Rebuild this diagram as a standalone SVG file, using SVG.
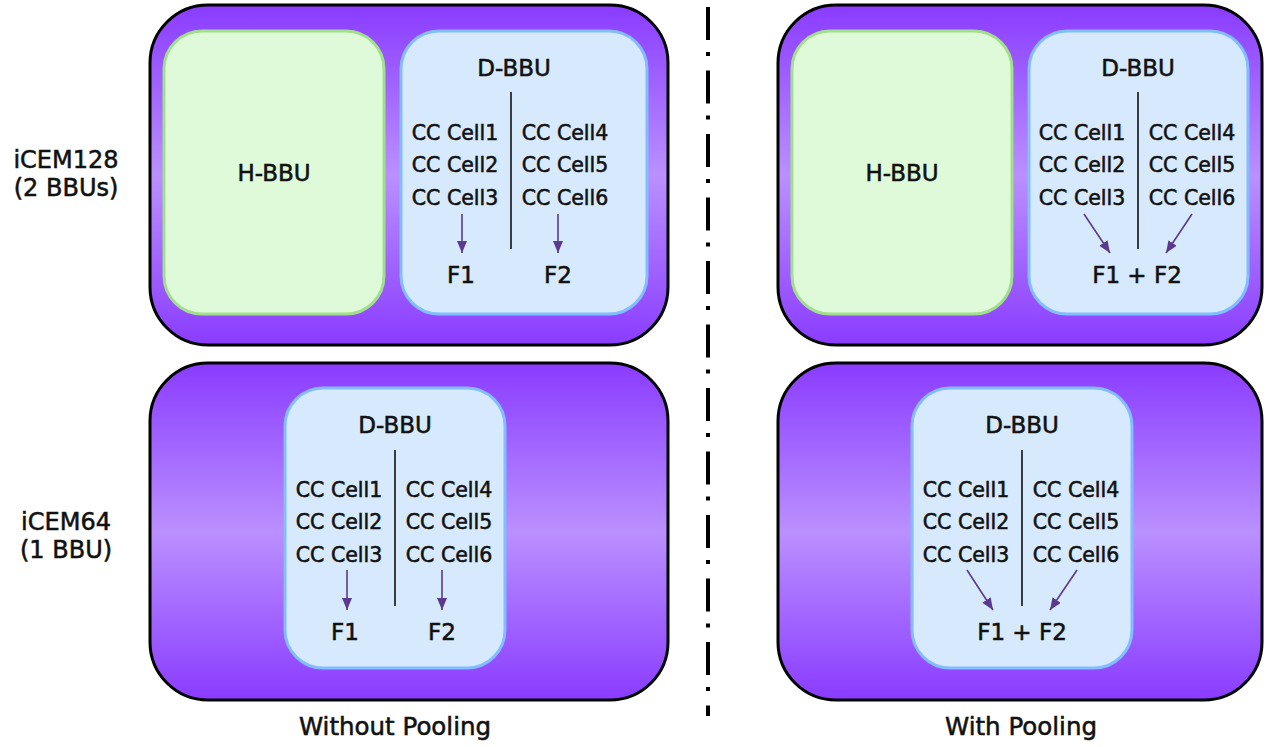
<svg xmlns="http://www.w3.org/2000/svg" width="1267" height="747" viewBox="0 0 1267 747">
<defs>
<linearGradient id="pg" x1="0" y1="0" x2="0" y2="1">
<stop offset="0" stop-color="#8a3cff"/>
<stop offset="0.5" stop-color="#ba90ff"/>
<stop offset="1" stop-color="#8a3cff"/>
</linearGradient>
<marker id="ah" viewBox="0 0 12 10" refX="12" refY="5" markerWidth="12" markerHeight="10" markerUnits="userSpaceOnUse" orient="auto">
<path d="M0,0 L12,5 L0,10 z" fill="#5b3a8e"/>
</marker>
</defs>
<style>
.outer{fill:url(#pg);stroke:#000;stroke-width:3}
.hbbu{fill:#dffad8;stroke:#a2df8c;stroke-width:3}
.dbbu{fill:#d7e9fd;stroke:#82bdff;stroke-width:3}
text{font-family:"DejaVu Sans","Liberation Sans",sans-serif;fill:#111;stroke:#111;stroke-width:0.55px;text-anchor:middle}
.cell{font-size:20.5px}
.t{font-size:23px}
.side{font-size:24px}
.lab{font-size:24.5px}
.arr{stroke:#5b3a8e;stroke-width:1.6;fill:none;marker-end:url(#ah)}
.div{stroke:#111;stroke-width:1.6}
.sep{stroke:#000;stroke-width:4;stroke-dasharray:33 12 4 14.5;fill:none}
</style>

<g id="label-icem128"><text class="side" x="66" y="168">iCEM128</text><text class="side" x="66" y="196">(2 BBUs)</text></g>
<g id="label-icem64"><text class="side" x="66" y="530">iCEM64</text><text class="side" x="66" y="558">(1 BBU)</text></g>

<g id="icem128-nopool">
<rect class="outer" x="150" y="5" width="518" height="340" rx="58"/>
</g>
<g id="hbbu-nopool">
<rect class="hbbu" x="164" y="31" width="220" height="283" rx="38"/>
<text class="t" x="274" y="181">H-BBU</text>
</g>
<g id="dbbu128-nopool">
<rect class="dbbu" x="401" y="31" width="246" height="283" rx="38"/>
<text class="t" x="514" y="76">D-BBU</text>
<line class="div" x1="511" y1="92" x2="511" y2="249"/>
<text class="cell" x="455" y="140">CC Cell1</text>
<text class="cell" x="455" y="172">CC Cell2</text>
<text class="cell" x="455" y="205">CC Cell3</text>
<text class="cell" x="565" y="140">CC Cell4</text>
<text class="cell" x="565" y="172">CC Cell5</text>
<text class="cell" x="565" y="205">CC Cell6</text>
<text class="t" x="461" y="283">F1</text>
<text class="t" x="558" y="283">F2</text>
</g>

<g id="icem128-pool">
<rect class="outer" x="778" y="5" width="484" height="340" rx="58"/>
</g>
<g id="hbbu-pool">
<rect class="hbbu" x="792" y="31" width="220" height="283" rx="38"/>
<text class="t" x="902" y="181">H-BBU</text>
</g>
<g id="dbbu128-pool">
<rect class="dbbu" x="1029" y="31" width="219" height="283" rx="38"/>
<text class="t" x="1138" y="76">D-BBU</text>
<line class="div" x1="1138" y1="92" x2="1138" y2="249"/>
<text class="cell" x="1082" y="140">CC Cell1</text>
<text class="cell" x="1082" y="172">CC Cell2</text>
<text class="cell" x="1082" y="205">CC Cell3</text>
<text class="cell" x="1192" y="140">CC Cell4</text>
<text class="cell" x="1192" y="172">CC Cell5</text>
<text class="cell" x="1192" y="205">CC Cell6</text>
<text class="t" x="1137" y="283">F1 + F2</text>
</g>

<g id="icem64-nopool">
<rect class="outer" x="150" y="363" width="518" height="337" rx="58"/>
</g>
<g id="dbbu64-nopool">
<rect class="dbbu" x="285" y="388" width="220" height="280" rx="38"/>
<text class="t" x="395" y="433">D-BBU</text>
<line class="div" x1="395" y1="450" x2="395" y2="606"/>
<text class="cell" x="339" y="497">CC Cell1</text>
<text class="cell" x="339" y="529">CC Cell2</text>
<text class="cell" x="339" y="562">CC Cell3</text>
<text class="cell" x="449" y="497">CC Cell4</text>
<text class="cell" x="449" y="529">CC Cell5</text>
<text class="cell" x="449" y="562">CC Cell6</text>
<text class="t" x="345" y="640">F1</text>
<text class="t" x="442" y="640">F2</text>
</g>

<g id="icem64-pool">
<rect class="outer" x="778" y="363" width="484" height="337" rx="58"/>
</g>
<g id="dbbu64-pool">
<rect class="dbbu" x="912" y="388" width="220" height="280" rx="38"/>
<text class="t" x="1022" y="433">D-BBU</text>
<line class="div" x1="1022" y1="450" x2="1022" y2="606"/>
<text class="cell" x="966" y="497">CC Cell1</text>
<text class="cell" x="966" y="529">CC Cell2</text>
<text class="cell" x="966" y="562">CC Cell3</text>
<text class="cell" x="1076" y="497">CC Cell4</text>
<text class="cell" x="1076" y="529">CC Cell5</text>
<text class="cell" x="1076" y="562">CC Cell6</text>
<text class="t" x="1022" y="640">F1 + F2</text>
</g>

<g id="connectors">
<line class="arr" x1="462" y1="214" x2="462" y2="253"/>
<line class="arr" x1="558" y1="214" x2="558" y2="253"/>
<line class="arr" x1="1084" y1="214" x2="1110" y2="253"/>
<line class="arr" x1="1192" y1="214" x2="1166" y2="253"/>
<line class="arr" x1="347" y1="570" x2="347" y2="610"/>
<line class="arr" x1="442" y1="570" x2="442" y2="610"/>
<line class="arr" x1="967" y1="570" x2="993" y2="610"/>
<line class="arr" x1="1077" y1="570" x2="1050" y2="610"/>
</g>

<g id="separator">
<line class="sep" x1="708" y1="7" x2="708" y2="716"/>
</g>

<g id="captions">
<text class="lab" x="395" y="735">Without Pooling</text>
<text class="lab" x="1021" y="735">With Pooling</text>
</g>
</svg>
